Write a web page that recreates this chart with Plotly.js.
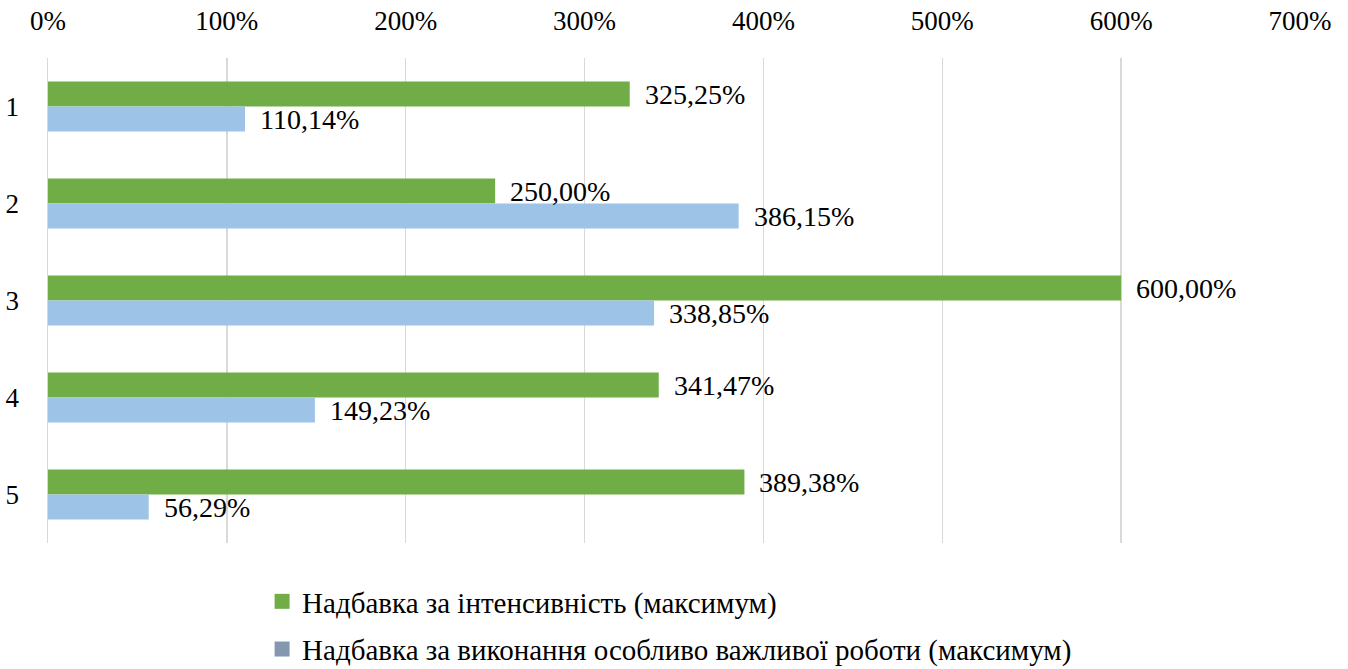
<!DOCTYPE html>
<html>
<head>
<meta charset="utf-8">
<script src="https://cdn.plot.ly/plotly-3.0.1.min.js"></script>
<style>html,body{margin:0;padding:0;background:#fff;}#chart{width:1348px;height:669px;}</style>
</head>
<body>
<div id="chart"></div>
<script>
const categories = ['1', '2', '3', '4', '5'];
const intensityMax = [325.25, 250.00, 600.00, 341.47, 389.38];
const importantWorkMax = [110.14, 386.15, 338.85, 149.23, 56.29];
const seriesNames = ['Надбавка за інтенсивність (максимум)', 'Надбавка за виконання особливо важливої роботи (максимум)'];
const tickValues = [0, 100, 200, 300, 400, 500, 600, 700];
const tickLabels = ['0%', '100%', '200%', '300%', '400%', '500%', '600%', '700%'];

const FAMILY = 'Liberation Serif, Times New Roman, serif';
const FS = 27;
const fmt = v => v.toFixed(2).replace('.', ',') + '%';

const traces = [
  {
    type: 'bar', orientation: 'h', y: categories, x: intensityMax, name: seriesNames[0],
    marker: {color: '#70AD47'}, showlegend: false, hoverinfo: 'x+y'
  },
  {
    type: 'bar', orientation: 'h', y: categories, x: importantWorkMax, name: seriesNames[1],
    marker: {color: '#9DC3E6'}, showlegend: false, hoverinfo: 'x+y'
  },
  {
    type: 'scatter', mode: 'markers', x: [null], y: [null], name: seriesNames[0], legendgroup: 'a',
    marker: {color: '#70AD47', symbol: 'square', size: 15}, showlegend: true, hoverinfo: 'skip'
  },
  {
    type: 'scatter', mode: 'markers', x: [null], y: [null], name: seriesNames[1], legendgroup: 'b',
    marker: {color: '#8497B0', symbol: 'square', size: 15}, showlegend: true, hoverinfo: 'skip'
  }
];

const annotations = [];
categories.forEach((c, i) => {
  annotations.push({x: intensityMax[i], y: c, xref: 'x', yref: 'y', text: fmt(intensityMax[i]),
    showarrow: false, xanchor: 'left', yanchor: 'middle', xshift: 13, yshift: 12,
    font: {family: FAMILY, size: 28, color: '#000'}});
  annotations.push({x: importantWorkMax[i], y: c, xref: 'x', yref: 'y', text: fmt(importantWorkMax[i]),
    showarrow: false, xanchor: 'left', yanchor: 'middle', xshift: 13, yshift: -13,
    font: {family: FAMILY, size: 28, color: '#000'}});
});

const layout = {
  width: 1348, height: 669,
  margin: {l: 48, r: 48, t: 58, b: 126, autoexpand: false},
  paper_bgcolor: '#fff', plot_bgcolor: '#fff',
  font: {family: FAMILY, size: FS, color: '#000'},
  barmode: 'group',
  bargap: 0.485, bargroupgap: 0,
  showlegend: true,
  annotations: annotations,
  legend: {
    orientation: 'v', x: 0.171, xanchor: 'left', y: -0.068, yanchor: 'top',
    font: {family: FAMILY, size: 29, color: '#000'},
    tracegroupgap: 7, traceorder: 'grouped', itemwidth: 30
  },
  xaxis: {
    side: 'top', range: [0, 700], tickmode: 'array', tickvals: tickValues, ticktext: tickLabels,
    showgrid: true, gridcolor: '#D9D9D9', gridwidth: 1.5,
    zeroline: false, showline: false, ticks: '', fixedrange: true,
    ticklabelstandoff: 22,
    tickfont: {family: FAMILY, size: FS, color: '#000'}
  },
  yaxis: {
    autorange: 'reversed', showgrid: false, zeroline: false,
    showline: true, linecolor: '#D9D9D9', linewidth: 1.5, ticks: '',
    ticklabelstandoff: 22,
    tickfont: {family: FAMILY, size: FS, color: '#000'}
  }
};

Plotly.newPlot('chart', traces, layout, {displayModeBar: false, staticPlot: true});
</script>
</body>
</html>
